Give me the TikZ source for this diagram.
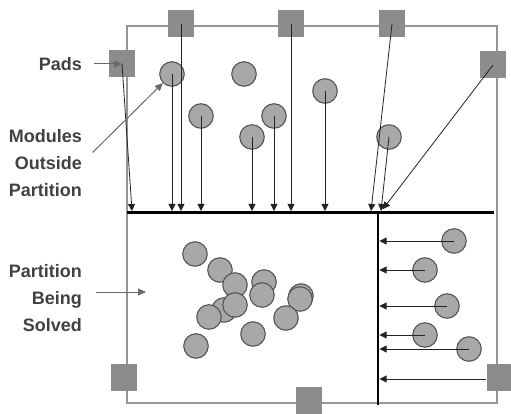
\documentclass[tikz,border=0pt]{standalone}
\usepackage{fontspec}
\setmainfont{Liberation Sans}
\usetikzlibrary{arrows.meta}
\definecolor{padgray}{RGB}{140,140,140}
\definecolor{modfill}{RGB}{168,168,168}
\definecolor{moddraw}{RGB}{85,85,85}
\definecolor{framegray}{RGB}{150,150,150}
\definecolor{conncol}{RGB}{35,35,35}
\definecolor{lblarrow}{RGB}{105,105,105}
\definecolor{lbltext}{RGB}{65,65,65}
\begin{document}
\begin{tikzpicture}[x=1pt,y=-1pt,
  pad/.style={rectangle,minimum width=26,minimum height=27,inner sep=0,fill=padgray},
  module/.style={circle,minimum size=24.5,inner sep=0,fill=modfill,draw=moddraw,line width=1.1pt},
  conn/.style={draw=conncol,line width=0.8pt,-{Triangle[length=7pt,width=7pt]}},
  lblarrow/.style={draw=lblarrow,line width=1pt,-{Triangle[length=8pt,width=7pt]}},
  label/.style={anchor=east,align=right,inner sep=0,text=lbltext,
    font=\fontsize{18}{27}\selectfont\bfseries},
  cutline/.style={draw=black,line width=2.8pt}]
\useasboundingbox (0,0) rectangle (511,414);
\clip (0,0) rectangle (511,414);

% chip outline
\draw[framegray,line width=2pt] (127,26) rectangle (497,403);

% pads along the outline
\node[pad] (pTL) at (122,64) {};
\node[pad] (pT1) at (181,24) {};
\node[pad] (pT2) at (291,24) {};
\node[pad] (pT3) at (392,24) {};
\node[pad] (pR)  at (493,65) {};
\node[pad] (pBL) at (124,377) {};
\node[pad] (pB)  at (309,400) {};
\node[pad] (pBR) at (500,377) {};

% modules outside the partition
\node[module] (m1) at (172,74) {};
\node[module] (m2) at (244,74) {};
\node[module] (m3) at (201,116) {};
\node[module] (m4) at (252,137) {};
\node[module] (m5) at (274,116) {};
\node[module] (m6) at (325,91) {};
\node[module] (m7) at (389,137) {};

\node[module] (r1) at (454,241) {};
\node[module] (r2) at (425,270) {};
\node[module] (r3) at (447,306) {};
\node[module] (r4) at (425,335) {};
\node[module] (r5) at (469,349) {};

% modules of the partition being solved
\node[module] (b1)  at (195,254) {};
\node[module] (b2)  at (220,270) {};
\node[module] (b3)  at (235,285) {};
\node[module] (b4)  at (264,282) {};
\node[module] (b5)  at (262,295) {};
\node[module] (b6)  at (224,310) {};
\node[module] (b7)  at (235,305) {};
\node[module] (b8)  at (209,317) {};
\node[module] (b9a) at (301,296) {};
\node[module] (b9)  at (300,299) {};
\node[module] (b10) at (286,318) {};
\node[module] (b11) at (253,334) {};
\node[module] (b12) at (196,346) {};

% cut lines bounding the partition
\coordinate (hL) at (127,212.5);
\coordinate (hR) at (494,212.5);
\coordinate (J)  at (378,212.5);
\coordinate (vB) at (378,405);
\coordinate (tipY) at (0,211);
\coordinate (tipX) at (379.5,0);

% terminals propagated onto the horizontal cut
\coordinate (tTL) at (132,211);
\coordinate (tT3) at (371,211);
\coordinate (tM7) at (381,211);
\coordinate (tR)  at (383,209);
\draw[conn] (pTL.center) -- (tTL);
\draw[conn] (m1.center) -- (m1.center |- tipY);
\draw[conn] (pT1.center) -- (pT1.center |- tipY);
\draw[conn] (m3.center) -- (m3.center |- tipY);
\draw[conn] (m4.center) -- (m4.center |- tipY);
\draw[conn] (m5.center) -- (m5.center |- tipY);
\draw[conn] (pT2.center) -- (pT2.center |- tipY);
\draw[conn] (m6.center) -- (m6.center |- tipY);
\draw[conn] (pT3.center) -- (tT3);
\draw[conn] (m7.center) -- (tM7);
\draw[conn] (pR.center) -- (tR);

% terminals propagated onto the vertical cut
\draw[conn] (r1.center) -- (r1.center -| tipX);
\draw[conn] (r2.center) -- (r2.center -| tipX);
\draw[conn] (r3.center) -- (r3.center -| tipX);
\draw[conn] (r4.center) -- (r4.center -| tipX);
\draw[conn] (r5.center) -- (r5.center -| tipX);
\coordinate (sBR) at (486,379);
\draw[conn] (sBR) -- (sBR -| tipX);

\draw[cutline] (hL) -- (hR);
\draw[cutline] (J) -- (vB);

% labels
\node[label] (lpads) at (82,64) {Pads};
\node[label] (lmods) at (82,163) {Modules\\Outside\\Partition};
\node[label] (lpart) at (82,298) {Partition\\Being\\Solved};
\coordinate (solvedTip) at (146,292);

\draw[lblarrow,shorten <=12pt] (lpads.east) -- (lpads.east -| pTL.center);
\draw[lblarrow,shorten <=15pt] (lmods.east) -- (m1);
\draw[lblarrow,shorten <=14pt] (lpart.east |- solvedTip) -- (solvedTip);
\end{tikzpicture}
\end{document}
